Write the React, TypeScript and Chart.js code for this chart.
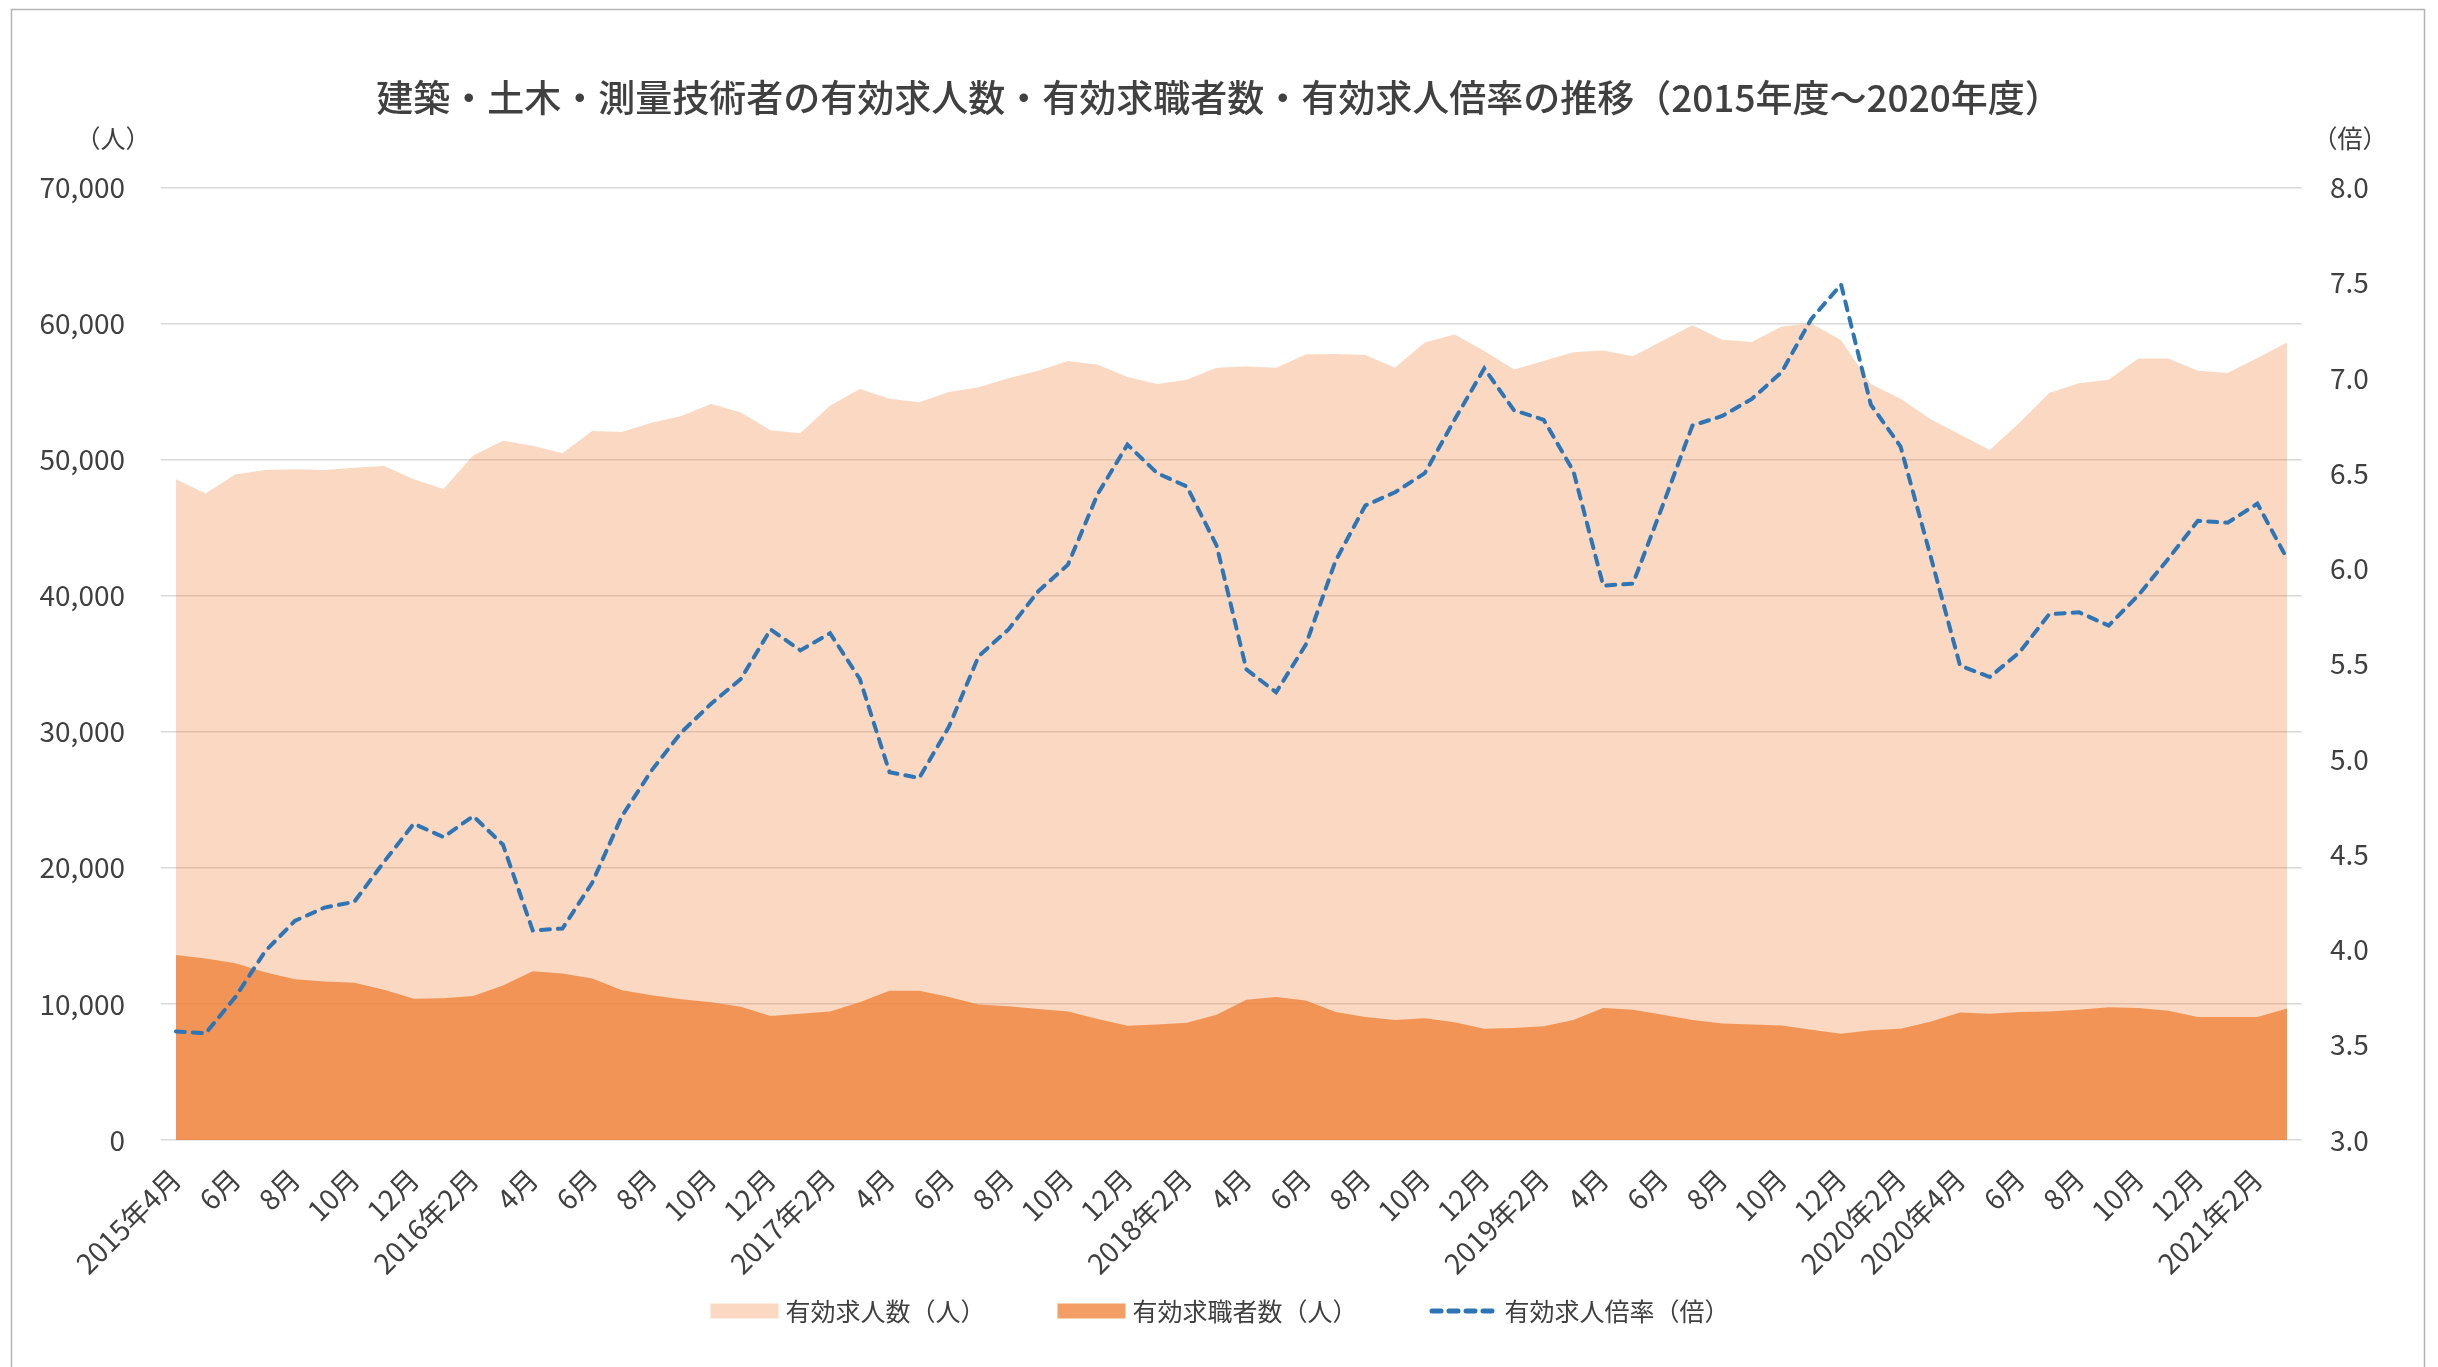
import React, { useEffect, useRef } from "react";
import { Chart, registerables } from "chart.js";

Chart.register(...registerables);

const FONT = '"Noto Sans CJK JP", "Noto Sans", sans-serif';
const TEXT_COLOR = "#404040";

const chartTitle = "建築・土木・測量技術者の有効求人数・有効求職者数・有効求人倍率の推移（2015年度～2020年度）";
const leftUnit = "（人）";
const rightUnit = "（倍）";

const seriesNames = ["有効求人数（人）", "有効求職者数（人）", "有効求人倍率（倍）"];

const months = [
  "2015年4月", "5月", "6月", "7月", "8月", "9月", "10月", "11月", "12月", "2016年1月", "2016年2月", "3月",
  "4月", "5月", "6月", "7月", "8月", "9月", "10月", "11月", "12月", "2017年1月", "2017年2月", "3月",
  "4月", "5月", "6月", "7月", "8月", "9月", "10月", "11月", "12月", "2018年1月", "2018年2月", "3月",
  "4月", "5月", "6月", "7月", "8月", "9月", "10月", "11月", "12月", "2019年1月", "2019年2月", "3月",
  "4月", "5月", "6月", "7月", "8月", "9月", "10月", "11月", "12月", "2020年1月", "2020年2月", "2020年3月",
  "2020年4月", "5月", "6月", "7月", "8月", "9月", "10月", "11月", "12月", "2021年1月", "2021年2月", "3月",
];

const jobOffers = [
  48560, 47500, 48900, 49240, 49280, 49240, 49400, 49530, 48560, 47840, 50290, 51390,
  51010, 50460, 52100, 52020, 52700, 53200, 54090, 53450, 52150, 51940, 53960, 55180,
  54470, 54210, 54970, 55310, 55980, 56530, 57250, 56960, 56070, 55560, 55860, 56750,
  56830, 56750, 57720, 57760, 57680, 56750, 58600, 59190, 57970, 56620, 57250, 57880,
  58010, 57590, 58730, 59870, 58810, 58640, 59780, 60000, 58770, 55560, 54470, 52990,
  51850, 50710, 52700, 54890, 55610, 55860, 57420, 57420, 56530, 56370, 57460, 58600,
];

const jobSeekers = [
  13590, 13330, 12990, 12320, 11810, 11640, 11560, 11050, 10380, 10420, 10590, 11350,
  12400, 12240, 11860, 11010, 10630, 10340, 10130, 9790, 9110, 9280, 9450, 10130,
  10970, 10970, 10510, 9960, 9830, 9620, 9450, 8900, 8400, 8480, 8610, 9200,
  10300, 10510, 10250, 9410, 9030, 8820, 8940, 8650, 8180, 8230, 8350, 8820,
  9700, 9580, 9200, 8820, 8560, 8480, 8420, 8100, 7800, 8060, 8180, 8690,
  9370, 9280, 9410, 9450, 9580, 9750, 9700, 9490, 9030, 9030, 9030, 9660,
];

const offerRatio = [
  3.57, 3.56, 3.75, 3.99, 4.15, 4.22, 4.25, 4.46, 4.66, 4.59, 4.70, 4.55,
  4.10, 4.11, 4.35, 4.70, 4.94, 5.14, 5.29, 5.42, 5.68, 5.57, 5.66, 5.42,
  4.93, 4.90, 5.17, 5.54, 5.68, 5.88, 6.02, 6.39, 6.65, 6.50, 6.43, 6.12,
  5.47, 5.35, 5.60, 6.04, 6.33, 6.40, 6.50, 6.78, 7.05, 6.83, 6.78, 6.51,
  5.91, 5.92, 6.33, 6.75, 6.80, 6.89, 7.03, 7.31, 7.49, 6.86, 6.64, 6.07,
  5.49, 5.43, 5.56, 5.76, 5.77, 5.70, 5.86, 6.05, 6.25, 6.24, 6.34, 6.05,
];

const leftAxis = { min: 0, max: 70000, step: 10000 };
const rightAxis = { min: 3, max: 8, step: 0.5 };

const OFFERS_FILL = "rgba(237,125,49,0.30)";
const SEEKERS_FILL = "rgba(237,125,49,0.75)";
const RATIO_COLOR = "#2E75B6";
const RATIO_DASH = [9, 8];

const decorPlugin = {
  id: "decor",
  beforeDraw(chart: any) {
    const ctx = chart.ctx;
    ctx.save();
    ctx.fillStyle = "#ffffff";
    ctx.fillRect(0, 0, chart.width, chart.height);
    ctx.strokeStyle = "#b4b4b4";
    ctx.lineWidth = 1.5;
    ctx.strokeRect(11.5, 9.5, 2413, 1450);
    ctx.restore();
  },
  afterDraw(chart: any) {
    const { ctx, chartArea } = chart;
    ctx.save();
    ctx.font = `25px ${FONT}`;
    ctx.fillStyle = TEXT_COLOR;
    ctx.textAlign = "center";
    ctx.textBaseline = "middle";
    ctx.fillText(leftUnit, chartArea.left - 48, chartArea.top - 49);
    ctx.fillText(rightUnit, chartArea.right + 48, chartArea.top - 49);

    // legend (Excel-like spacing)
    const datasets = chart.data.datasets;
    const boxW = 68;
    const boxH = 15;
    const gapBoxText = 7;
    const gapItems = 72;
    const cy = chartArea.bottom + 171;
    const widths = datasets.map((d: any) => ctx.measureText(d.label).width);
    const total =
      widths.reduce((a: number, b: number) => a + b, 0) +
      datasets.length * (boxW + gapBoxText) +
      (datasets.length - 1) * gapItems;
    let x = chart.width / 2 + 1 - total / 2;
    ctx.textAlign = "left";
    datasets.forEach((d: any, i: number) => {
      if (d.borderDash && d.borderDash.length) {
        ctx.save();
        ctx.strokeStyle = d.borderColor;
        ctx.lineWidth = 5;
        ctx.lineCap = "round";
        ctx.setLineDash(d.borderDash);
        ctx.beginPath();
        ctx.moveTo(x + 2.5, cy);
        ctx.lineTo(x + boxW - 2.5, cy);
        ctx.stroke();
        ctx.restore();
      } else {
        ctx.fillStyle = d.backgroundColor;
        ctx.fillRect(x, cy - boxH / 2, boxW, boxH);
      }
      x += boxW + gapBoxText;
      ctx.fillStyle = TEXT_COLOR;
      ctx.fillText(d.label, x, cy);
      x += widths[i] + gapItems;
    });
    ctx.restore();
  },
};

export default function App() {
  const canvasRef = useRef<HTMLCanvasElement | null>(null);

  useEffect(() => {
    const canvas = canvasRef.current;
    if (!canvas) return;
    Chart.defaults.font.family = FONT;
    Chart.defaults.color = TEXT_COLOR;

    const chart = new Chart(canvas, {
      type: "line",
      data: {
        labels: months,
        datasets: [
          {
            label: seriesNames[0],
            data: jobOffers,
            yAxisID: "y",
            backgroundColor: OFFERS_FILL,
            borderColor: "rgba(0,0,0,0)",
            borderWidth: 0,
            pointRadius: 0,
            fill: "origin",
            tension: 0,
            order: 3,
          },
          {
            label: seriesNames[1],
            data: jobSeekers,
            yAxisID: "y",
            backgroundColor: SEEKERS_FILL,
            borderColor: "rgba(0,0,0,0)",
            borderWidth: 0,
            pointRadius: 0,
            fill: "origin",
            tension: 0,
            order: 2,
          },
          {
            label: seriesNames[2],
            data: offerRatio,
            yAxisID: "y1",
            borderColor: RATIO_COLOR,
            backgroundColor: RATIO_COLOR,
            borderWidth: 4,
            borderDash: RATIO_DASH,
            borderCapStyle: "round",
            pointRadius: 0,
            fill: false,
            tension: 0,
            order: 1,
          },
        ],
      } as any,
      options: {
        responsive: false,
        animation: false,
        devicePixelRatio: 1,
        layout: { padding: { top: 0, left: 0, right: 0, bottom: 0 } },
        plugins: {
          title: {
            display: true,
            text: chartTitle,
            color: TEXT_COLOR,
            font: { family: FONT, size: 37, weight: "500" as any },
            padding: { top: 76, bottom: 67 },
          },
          legend: { display: false },
          tooltip: { enabled: false },
        },
        scales: {
          x: {
            type: "category",
            offset: true,
            grid: { display: false },
            border: { display: false },
            ticks: {
              autoSkip: false,
              minRotation: 45,
              maxRotation: 45,
              padding: 14,
              color: TEXT_COLOR,
              font: { family: FONT, size: 28 },
              callback: (_v: any, i: number) => (i % 2 === 0 ? months[i] : ""),
            },
            afterFit: (s: any) => {
              s.height = 227;
            },
          },
          y: {
            position: "left",
            min: leftAxis.min,
            max: leftAxis.max,
            grid: { color: "#d9d9d9", lineWidth: 1.5, drawTicks: false },
            border: { display: false },
            ticks: {
              stepSize: leftAxis.step,
              padding: 36,
              color: TEXT_COLOR,
              font: { family: FONT, size: 28 },
              callback: (v: any) => Number(v).toLocaleString("en-US"),
            },
            afterFit: (s: any) => {
              s.width = 161;
            },
          },
          y1: {
            position: "right",
            min: rightAxis.min,
            max: rightAxis.max,
            grid: { drawOnChartArea: false, drawTicks: false },
            border: { display: false },
            ticks: {
              stepSize: rightAxis.step,
              padding: 28,
              color: TEXT_COLOR,
              font: { family: FONT, size: 28 },
              callback: (v: any) => Number(v).toFixed(1),
            },
            afterFit: (s: any) => {
              s.width = 136;
            },
          },
        },
      } as any,
      plugins: [decorPlugin],
    });

    return () => {
      chart.destroy();
    };
  }, []);

  return (
    <div style={{ position: "fixed", left: 0, top: 0, width: 2438, height: 1367, overflow: "hidden", background: "#fff" }}>
      <canvas ref={canvasRef} width={2438} height={1367} style={{ display: "block", width: 2438, height: 1367 }} />
    </div>
  );
}
